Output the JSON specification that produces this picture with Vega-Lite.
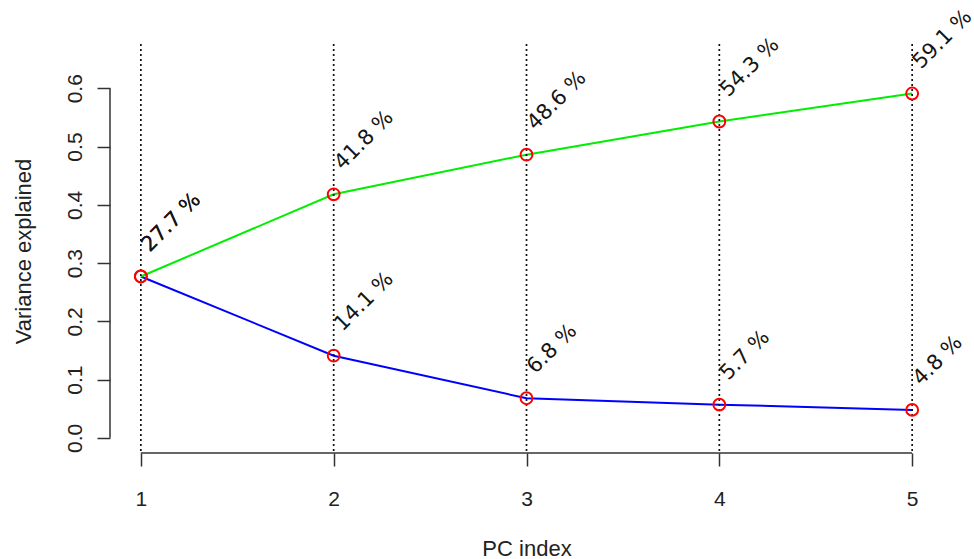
{
  "$schema": "https://vega.github.io/schema/vega-lite/v6.json",
  "width": 833,
  "height": 409,
  "autosize": {"type": "none"},
  "padding": {"left": 110, "top": 44, "right": 31, "bottom": 106},
  "background": "white",
  "config": {"view": {"stroke": null}, "font": "Liberation Sans"},
  "datasets": {
    "pcs": [{"pc": 1}, {"pc": 2}, {"pc": 3}, {"pc": 4}, {"pc": 5}],
    "ticks": [{"tick": 0}, {"tick": 0.1}, {"tick": 0.2}, {"tick": 0.3}, {"tick": 0.4}, {"tick": 0.5}, {"tick": 0.6}],
    "main": [
      {"pc": 1, "value": 0.277, "series": "individual", "label": "27.7 %"},
      {"pc": 2, "value": 0.141, "series": "individual", "label": "14.1 %"},
      {"pc": 3, "value": 0.068, "series": "individual", "label": "6.8 %"},
      {"pc": 4, "value": 0.057, "series": "individual", "label": "5.7 %"},
      {"pc": 5, "value": 0.048, "series": "individual", "label": "4.8 %"},
      {"pc": 1, "value": 0.277, "series": "cumulative", "label": "27.7 %"},
      {"pc": 2, "value": 0.418, "series": "cumulative", "label": "41.8 %"},
      {"pc": 3, "value": 0.486, "series": "cumulative", "label": "48.6 %"},
      {"pc": 4, "value": 0.543, "series": "cumulative", "label": "54.3 %"},
      {"pc": 5, "value": 0.591, "series": "cumulative", "label": "59.1 %"}
    ]
  },
  "layer": [
    {
      "data": {"name": "main"},
      "mark": {"type": "line", "strokeWidth": 2},
      "encoding": {
        "x": {
          "field": "pc",
          "type": "quantitative",
          "scale": {"domain": [0.84, 5.16], "nice": false, "zero": false},
          "axis": {
            "title": "PC index",
            "values": [1, 2, 3, 4, 5],
            "format": "d",
            "domain": false,
            "grid": false,
            "tickSize": 13,
            "tickWidth": 1.5,
            "tickColor": "#333333",
            "labelFont": "Liberation Sans",
            "labelFontSize": 21,
            "labelColor": "#222222",
            "labelPadding": 22,
            "titleFont": "Liberation Sans",
            "titleFontSize": 22,
            "titleFontWeight": "normal",
            "titleColor": "#222222",
            "titleX": 416.5,
            "titleY": 102,
            "titleAlign": "center",
            "titleBaseline": "alphabetic"
          }
        },
        "y": {
          "field": "value",
          "type": "quantitative",
          "scale": {"domain": [-0.026, 0.676], "nice": false, "zero": false},
          "axis": {
            "title": "Variance explained",
            "values": [0, 0.1, 0.2, 0.3, 0.4, 0.5, 0.6],
            "format": ".1f",
            "domain": false,
            "grid": false,
            "tickSize": 13,
            "tickWidth": 1.5,
            "tickColor": "#333333",
            "labelFont": "Liberation Sans",
            "labelFontSize": 21,
            "labelColor": "#222222",
            "labelAngle": -90,
            "labelAlign": "center",
            "labelBaseline": "alphabetic",
            "labelPadding": 16,
            "titleFont": "Liberation Sans",
            "titleFontSize": 22,
            "titleFontWeight": "normal",
            "titleColor": "#222222",
            "titleAngle": -90,
            "titleX": -80,
            "titleY": 207,
            "titleAlign": "center",
            "titleBaseline": "alphabetic"
          }
        },
        "color": {
          "field": "series",
          "type": "nominal",
          "scale": {"domain": ["cumulative", "individual"], "range": ["#00ee00", "#0000ff"]},
          "legend": null
        }
      }
    },
    {
      "data": {"name": "pcs"},
      "mark": {"type": "rule", "color": "#111111", "strokeWidth": 1.7, "strokeDash": [2, 3]},
      "encoding": {
        "x": {"field": "pc", "type": "quantitative", "title": "PC index"}
      }
    },
    {
      "data": {"name": "main"},
      "mark": {"type": "point", "shape": "circle", "filled": false, "color": "#ff0000", "strokeWidth": 2, "size": 140, "opacity": 1},
      "encoding": {
        "x": {"field": "pc", "type": "quantitative", "title": "PC index"},
        "y": {"field": "value", "type": "quantitative", "title": "Variance explained"}
      }
    },
    {
      "data": {"name": "main"},
      "mark": {"type": "text", "align": "left", "baseline": "alphabetic", "angle": -45, "dx": 23, "dy": -10.5, "font": "DejaVu Sans", "fontSize": 21, "color": "#151515"},
      "encoding": {
        "x": {"field": "pc", "type": "quantitative", "title": "PC index"},
        "y": {"field": "value", "type": "quantitative", "title": "Variance explained"},
        "text": {"field": "label", "type": "nominal"}
      }
    },
    {
      "data": {"name": "pcs"},
      "mark": {"type": "rule", "color": "#333333", "strokeWidth": 1.5},
      "encoding": {
        "x": {"aggregate": "min", "field": "pc", "type": "quantitative", "title": "PC index"},
        "x2": {"aggregate": "max", "field": "pc"},
        "y": {"value": {"expr": "height"}}
      }
    },
    {
      "data": {"name": "ticks"},
      "mark": {"type": "rule", "color": "#333333", "strokeWidth": 1.5},
      "encoding": {
        "x": {"value": 0},
        "y": {"aggregate": "min", "field": "tick", "type": "quantitative", "title": "Variance explained"},
        "y2": {"aggregate": "max", "field": "tick"}
      }
    }
  ]
}
